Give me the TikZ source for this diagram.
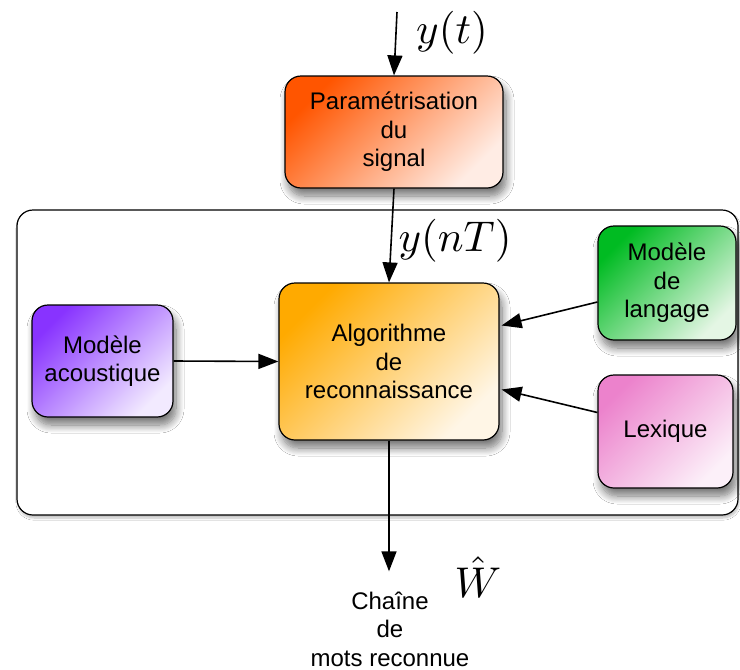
\documentclass[tikz,border=0pt]{standalone}
\usepackage{fontspec}
\setmainfont{Liberation Sans}
\usetikzlibrary{arrows.meta,shadows.blur}
\definecolor{parA}{RGB}{255,85,0}
\definecolor{parB}{RGB}{255,236,228}
\definecolor{algA}{RGB}{255,170,0}
\definecolor{algB}{RGB}{255,246,230}
\definecolor{acoA}{RGB}{136,51,255}
\definecolor{acoB}{RGB}{242,234,255}
\definecolor{lanA}{RGB}{0,187,34}
\definecolor{lanB}{RGB}{228,246,228}
\definecolor{lexA}{RGB}{236,130,204}
\definecolor{lexB}{RGB}{252,240,249}
\begin{document}
\begin{tikzpicture}[x=1pt,y=-1pt,
  box/.style={draw=black, line width=1.2pt, rounded corners=16pt, align=center,
    font=\fontsize{24}{28.5}\selectfont, inner sep=0pt,
    blur shadow={shadow xshift=3pt, shadow yshift=-8pt, shadow blur steps=10, shadow blur radius=8pt, shadow opacity=55}},
  grad/.style 2 args={top color=#1, bottom color=#2, shading angle=45},
  conn/.style={line width=1.6pt, -{Triangle[length=20pt,width=15pt]}},
  outtext/.style={font=\fontsize{24}{28.5}\selectfont, inner sep=1pt, anchor=base},
  lbl/.style={scale=4.3, inner sep=0pt}]
\fill[white] (0,0) rectangle (740,670);
\useasboundingbox (0,0) rectangle (740,670);
% container
\node[draw=black, line width=1.2pt, rounded corners=16pt, fill=white,
  minimum width=721pt, minimum height=305pt, inner sep=0pt,
  blur shadow={shadow xshift=1pt, shadow yshift=-3pt, shadow blur steps=6, shadow opacity=25}]
  (frame) at (377.5,362.5) {};
% boxes
\node[box, grad={parA}{parB}, minimum width=218pt, minimum height=112pt] (param) at (394,132) {Paramétrisation\\du\\signal};
\node[box, grad={algA}{algB}, minimum width=220pt, minimum height=157pt] (algo) at (389,361.5) {Algorithme\\de\\reconnaissance};
\node[box, grad={acoA}{acoB}, minimum width=141pt, minimum height=112pt] (aco) at (102.5,361) {Modèle\\acoustique};
\node[box, grad={lanA}{lanB}, minimum width=138pt, minimum height=114pt] (lan) at (667,283) {Modèle\\de\\langage};
\node[box, grad={lexA}{lexB}, minimum width=135pt, minimum height=113pt] (lex) at (665.5,431.5) {Lexique};
% output text
\node[outtext] (out1) at (390,609) {Chaîne};
\node[outtext] (out2) at (390,637.5) {de};
\node[outtext] (out3) at (390,666) {mots reconnue};
% labels
\node[lbl] (lyt) at (452,33) {$y(t)$};
\node[lbl] (lynt) at (455,241) {$y(nT)$};
\node[lbl] (lw) at (478,577) {$\hat{W}$};
% connectors
\coordinate (in) at (397,12);
\draw[conn] (in) -- (param.north);
\draw[conn] (param.south) -- (algo.north);
\draw[conn] (aco.east) -- (algo.west);
\draw[conn] ([yshift=-19pt]lan.west) -- ([yshift=36pt,xshift=2pt]algo.east);
\draw[conn] ([yshift=19pt]lex.west) -- ([yshift=-28pt,xshift=2pt]algo.east);
\draw[conn, shorten >=19pt] (algo.south) -- (algo.south |- out1.north);
\end{tikzpicture}
\end{document}
